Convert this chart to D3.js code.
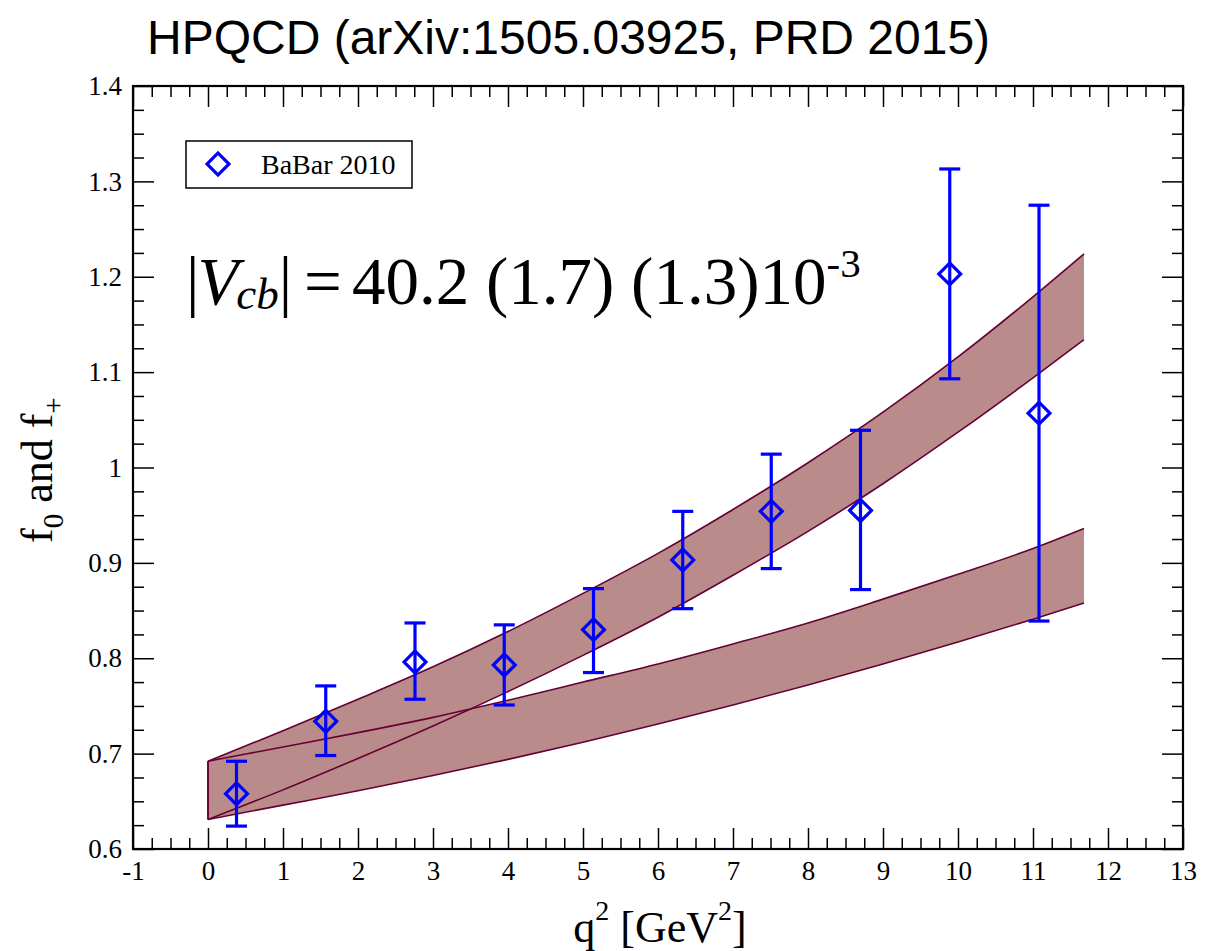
<!DOCTYPE html>
<html>
<head>
<meta charset="utf-8">
<script src="https://d3js.org/d3.v7.min.js"></script>
<style>
  body { margin: 0; background: white; }
  text { font-family: "Liberation Serif", "Times New Roman", serif; }
</style>
</head>
<body>
<svg width="1227" height="951" id="MainSVG"></svg>
<script>
// BaBar 2010 points: q^2 bin centres, central values and error bar ends
const qData = [0.38, 1.57, 2.76, 3.95, 5.14, 6.33, 7.51, 8.70, 9.89, 11.08];
const fData = [0.658, 0.734, 0.796, 0.793, 0.830, 0.903, 0.954, 0.955, 1.203, 1.057];
const errLo = [0.624, 0.698, 0.757, 0.751, 0.785, 0.852, 0.894, 0.872, 1.093, 0.839];
const errHi = [0.692, 0.771, 0.837, 0.835, 0.873, 0.954, 1.014, 1.039, 1.313, 1.275];

const bandQ   = [0, 1, 2, 3, 4, 5, 6, 7, 8, 9, 10, 11, 11.68];
const fPlusHi = [0.692, 0.724, 0.757, 0.791, 0.828, 0.868, 0.910, 0.956, 1.005, 1.058, 1.116, 1.179, 1.224];
const fPlusLo = [0.631, 0.662, 0.695, 0.729, 0.765, 0.803, 0.843, 0.887, 0.933, 0.983, 1.037, 1.094, 1.134];
const fZeroHi = [0.692, 0.707, 0.722, 0.738, 0.756, 0.775, 0.794, 0.815, 0.837, 0.862, 0.888, 0.915, 0.936];
const fZeroLo = [0.631, 0.646, 0.661, 0.677, 0.694, 0.712, 0.731, 0.751, 0.772, 0.794, 0.817, 0.841, 0.858];

const xTicks = [-1, 0, 1, 2, 3, 4, 5, 6, 7, 8, 9, 10, 11, 12, 13];
const yTicks = [0.6, 0.7, 0.8, 0.9, 1.0, 1.1, 1.2, 1.3, 1.4];
const yTickLabels = ["0.6", "0.7", "0.8", "0.9", "1", "1.1", "1.2", "1.3", "1.4"];

const svg = d3.select("svg");
const L = 133, R = 1183, T = 86, B = 849;

const xs = d3.scaleLinear().domain([-1, 13]).range([L, R]);
const ys = d3.scaleLinear().domain([0.6, 1.4]).range([B, T]);

const lineCol = "#660033", fillCol = "#b98c8b", blue = "#0000ff";

// title
svg.append("text")
  .attr("x", 147).attr("y", 54)
  .style("font-family", "'Liberation Sans', Arial, sans-serif")
  .attr("font-size", "48px")
  .text("HPQCD (arXiv:1505.03925, PRD 2015)");

// bands
function bandData(lo, hi) {
  return bandQ.map((q, i) => ({q: q, lo: lo[i], hi: hi[i]}));
}
const area = d3.area().x(d => xs(d.q)).y0(d => ys(d.lo)).y1(d => ys(d.hi)).curve(d3.curveMonotoneX);
const upper = d3.line().x(d => xs(d.q)).y(d => ys(d.hi)).curve(d3.curveMonotoneX);
const lower = d3.line().x(d => xs(d.q)).y(d => ys(d.lo)).curve(d3.curveMonotoneX);

const bands = [bandData(fZeroLo, fZeroHi), bandData(fPlusLo, fPlusHi)];
var g = svg.append("g");
bands.forEach(b => {
  g.append("path").attr("d", area(b)).attr("fill", fillCol);
});
bands.forEach(b => {
  g.append("path").attr("d", upper(b)).attr("fill", "none").attr("stroke", lineCol).attr("stroke-width", 1.6);
  g.append("path").attr("d", lower(b)).attr("fill", "none").attr("stroke", lineCol).attr("stroke-width", 1.6);
  g.append("line")
    .attr("x1", xs(b[0].q)).attr("x2", xs(b[0].q))
    .attr("y1", ys(b[0].lo)).attr("y2", ys(b[0].hi))
    .attr("stroke", lineCol).attr("stroke-width", 1.6);
});

// error bars and diamonds
const pts = qData.map((q, i) => ({q: q, f: fData[i], lo: errLo[i], hi: errHi[i]}));
const eb = svg.append("g").attr("stroke", blue).attr("stroke-width", 3.2).attr("fill", "none");
pts.forEach(p => {
  const x = xs(p.q);
  eb.append("line").attr("x1", x).attr("x2", x).attr("y1", ys(p.lo)).attr("y2", ys(p.hi));
  eb.append("line").attr("x1", x - 10.5).attr("x2", x + 10.5).attr("y1", ys(p.lo)).attr("y2", ys(p.lo));
  eb.append("line").attr("x1", x - 10.5).attr("x2", x + 10.5).attr("y1", ys(p.hi)).attr("y2", ys(p.hi));
});
const dia = d3.symbol().type(d3.symbolSquare).size(240);
svg.append("g").selectAll("path").data(pts).enter().append("path")
  .attr("d", dia)
  .attr("transform", d => "translate(" + xs(d.q) + "," + ys(d.f) + ") rotate(45)")
  .attr("fill", "none")
  .attr("stroke", blue).attr("stroke-width", 3.2);

// axes: major + minor ticks on all four sides, pointing in
const xMinor = d3.range(-1, 13.001, 0.25).filter(v => Math.abs(v - Math.round(v)) > 0.01);
const yMinor = d3.range(0.6, 1.4001, 0.025).filter(v => Math.abs(v * 10 - Math.round(v * 10)) > 0.01);

function styleAxis(sel) {
  sel.attr("font-family", "Liberation Serif, Times New Roman, serif").attr("font-size", 27);
  sel.selectAll("path").remove();
  sel.selectAll("line").attr("stroke", "#000").attr("stroke-width", 1.5);
  sel.selectAll("text").attr("fill", "#000");
}

svg.append("g").attr("transform", "translate(0," + B + ")")
  .call(d3.axisBottom(xs).tickValues(xTicks).tickSize(-21).tickPadding(12).tickFormat(d => String(d)))
  .call(styleAxis);
svg.append("g").attr("transform", "translate(0," + B + ")")
  .call(d3.axisBottom(xs).tickValues(xMinor).tickSize(-11).tickFormat(""))
  .call(styleAxis);
svg.append("g").attr("transform", "translate(0," + T + ")")
  .call(d3.axisTop(xs).tickValues(xTicks).tickSize(-21).tickFormat(""))
  .call(styleAxis);
svg.append("g").attr("transform", "translate(0," + T + ")")
  .call(d3.axisTop(xs).tickValues(xMinor).tickSize(-11).tickFormat(""))
  .call(styleAxis);

svg.append("g").attr("transform", "translate(" + L + ",0)")
  .call(d3.axisLeft(ys).tickValues(yTicks).tickSize(-21).tickPadding(11).tickFormat((d, i) => yTickLabels[i]))
  .call(styleAxis);
svg.append("g").attr("transform", "translate(" + L + ",0)")
  .call(d3.axisLeft(ys).tickValues(yMinor).tickSize(-11).tickFormat(""))
  .call(styleAxis);
svg.append("g").attr("transform", "translate(" + R + ",0)")
  .call(d3.axisRight(ys).tickValues(yTicks).tickSize(-21).tickFormat(""))
  .call(styleAxis);
svg.append("g").attr("transform", "translate(" + R + ",0)")
  .call(d3.axisRight(ys).tickValues(yMinor).tickSize(-11).tickFormat(""))
  .call(styleAxis);

// frame
svg.append("rect")
  .attr("x", L).attr("y", T).attr("width", R - L).attr("height", B - T)
  .attr("fill", "none").attr("stroke", "#000").attr("stroke-width", 2.2);

// axis titles
var xl = svg.append("text").attr("x", 660).attr("y", 942).attr("text-anchor", "middle").attr("font-size", "44px");
xl.append("tspan").text("q");
xl.append("tspan").attr("dy", -22).attr("font-size", "28px").text("2");
xl.append("tspan").attr("dy", 22).text(" [GeV");
xl.append("tspan").attr("dy", -22).attr("font-size", "28px").text("2");
xl.append("tspan").attr("dy", 22).text("]");

var yl = svg.append("text").attr("transform", "translate(52,543) rotate(-90)").attr("font-size", "44px");
yl.append("tspan").text("f");
yl.append("tspan").attr("dy", 11).attr("font-size", "29px").text("0");
yl.append("tspan").attr("dy", -11).text(" and f");
yl.append("tspan").attr("dy", 11).attr("font-size", "29px").text("+");

// legend
var leg = svg.append("g");
leg.append("rect").attr("x", 186).attr("y", 141).attr("width", 226).attr("height", 47)
  .attr("fill", "white").attr("stroke", "#000").attr("stroke-width", 1.5);
leg.append("path").attr("d", d3.symbol().type(d3.symbolSquare).size(240))
  .attr("transform", "translate(218,164) rotate(45)")
  .attr("fill", "none").attr("stroke", blue).attr("stroke-width", 3.2);
leg.append("text").attr("x", 261).attr("y", 174).attr("font-size", "28px").text("BaBar 2010");

// |Vcb| annotation
var vt = svg.append("text").attr("x", 186).attr("y", 304).attr("font-size", "67px");
vt.append("tspan").text("|");
vt.append("tspan").attr("font-style", "italic").attr("dx", -2).text("V");
vt.append("tspan").attr("font-style", "italic").attr("font-size", "45px").attr("dx", -2).attr("dy", 5).text("cb");
vt.append("tspan").attr("dy", -5).text("|");
vt.append("tspan").attr("x", 304).text("=");
vt.append("tspan").attr("x", 352).text("40.2 (1.7) (1.3)10");
vt.append("tspan").attr("font-size", "41px").attr("dy", -27).text("-3");
</script>
</body>
</html>
